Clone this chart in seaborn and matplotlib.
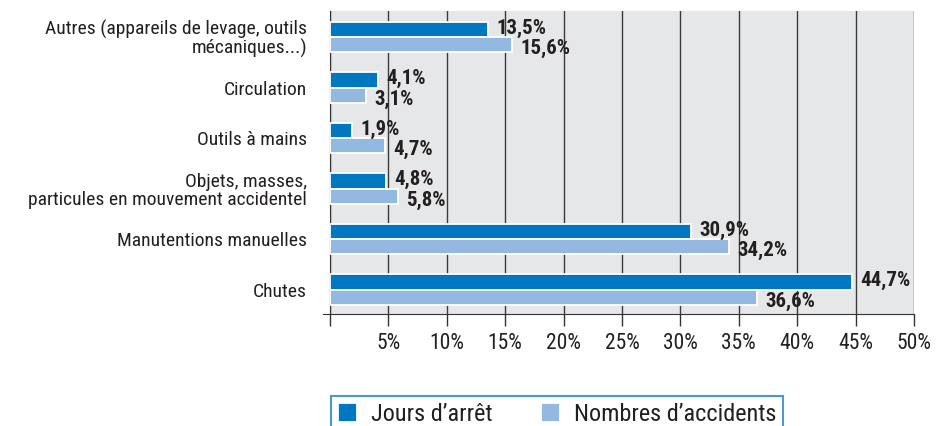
import matplotlib
matplotlib.use("Agg")
import matplotlib.pyplot as plt
import seaborn as sns
import pandas as pd

# categories, top to bottom
categories = [
    "Autres (appareils de levage, outils\nmécaniques...)",
    "Circulation",
    "Outils à mains",
    "Objets, masses,\nparticules en mouvement accidentel",
    "Manutentions manuelles",
    "Chutes",
]
jours_arret = [13.5, 4.1, 1.9, 4.8, 30.9, 44.7]
nb_accidents = [15.6, 3.1, 4.7, 5.8, 34.2, 36.6]
series = ["Jours d’arrêt", "Nombres d’accidents"]
x_ticks = [0, 5, 10, 15, 20, 25, 30, 35, 40, 45, 50]

df = pd.DataFrame({
    "categorie": categories * 2,
    "serie": [series[0]] * len(categories) + [series[1]] * len(categories),
    "valeur": jours_arret + nb_accidents,
})

plt.rcParams["font.family"] = ["Roboto Condensed", "Liberation Sans", "DejaVu Sans"]
txt = "#231f20"

fig = plt.figure(figsize=(9.51, 4.26), dpi=100)
ax = fig.add_axes([330 / 951, 1 - 314 / 426, (914 - 330) / 951, (314 - 11) / 426])
ax.set_facecolor("#e6e7e8")

sns.barplot(
    data=df, y="categorie", x="valeur", hue="serie", orient="h",
    order=categories, hue_order=series,
    palette=["#0078c1", "#93b9e1"], saturation=1, width=0.6,
    edgecolor="white", linewidth=1.3, ax=ax, zorder=3,
)

# value labels
for cont, vals, dy in zip(ax.containers, [jours_arret, nb_accidents], [1.0, -3.0]):
    for patch, v in zip(cont, vals):
        ax.annotate(
            f"{v:.1f}%".replace(".", ","),
            xy=(patch.get_width(), patch.get_y() + patch.get_height() / 2),
            xytext=(6, dy), textcoords="offset points",
            ha="left", va="center", fontsize=15, fontweight="bold", color=txt,
            zorder=5,
        )

ax.set_xlim(0, 50)
ax.set_ylim(5.485, -0.515)
ax.set_xticks(x_ticks)
ax.set_xticklabels([""] + [f"{t}%" for t in x_ticks[1:]])
ax.grid(axis="x", color="#3a3a3a", linewidth=1.0, zorder=1)
ax.set_axisbelow(True)
ax.set_xlabel("")
ax.set_ylabel("")

ax.tick_params(axis="x", direction="out", length=8.6, width=1, color="#333333",
               labelsize=15.5, labelcolor=txt, pad=5)
ax.tick_params(axis="y", length=0, labelsize=14, labelcolor=txt, pad=16.5)
for lab in ax.get_yticklabels():
    lab.set_linespacing(1.0)

for s in ["top", "right"]:
    ax.spines[s].set_visible(False)
ax.spines["left"].set_color("#333333")
ax.spines["bottom"].set_color("#333333")
ax.spines["bottom"].set_bounds(-0.6, 50)

handles, labels = ax.get_legend_handles_labels()
ax.legend(
    handles, labels, ncol=2, loc="upper left",
    bbox_to_anchor=(331 / 951, 1 - 396 / 426), bbox_transform=fig.transFigure,
    fontsize=17.5, frameon=True, fancybox=False, edgecolor="#4a98d3",
    framealpha=1, borderpad=0.28, borderaxespad=0,
    handlelength=0.8, handleheight=0.8, handletextpad=0.55,
    columnspacing=2.0, labelcolor=txt,
)
ax.get_legend().get_frame().set_linewidth(1.5)

fig.savefig("out.png", dpi=100)
